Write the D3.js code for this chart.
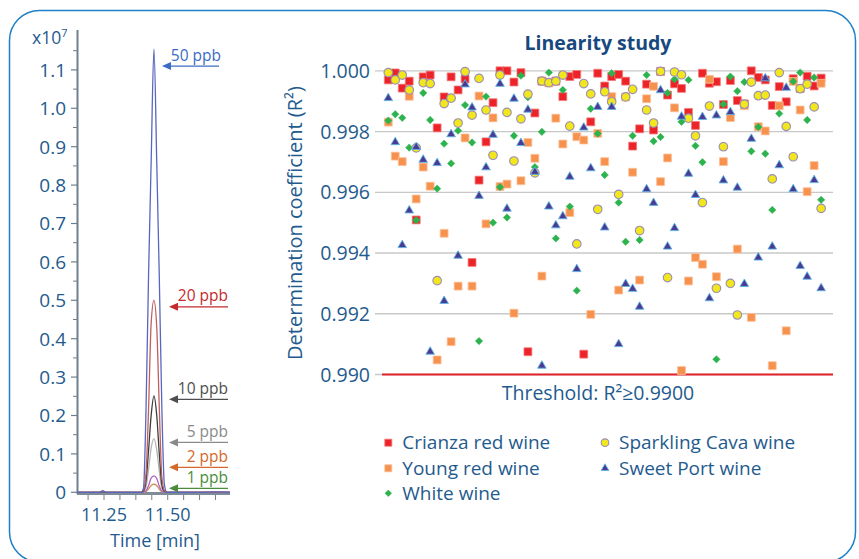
<!DOCTYPE html>
<html>
<head>
<meta charset="utf-8">
<script src="https://cdn.jsdelivr.net/npm/d3@7"></script>
<style>
  html, body { margin: 0; padding: 0; background: #ffffff; }
  svg { display: block; font-family: "Open Sans", "Noto Sans", "DejaVu Sans", sans-serif; }
</style>
</head>
<body>
<svg id="chart" width="859" height="559"></svg>
<script>
// ---------- Chromatogram (left panel) ----------
// Retention time in minutes, intensity in units of 10^7 counts
const times = [11.144, 11.20, 11.232, 11.245, 11.258, 11.30, 11.36, 11.395, 11.405, 11.415, 11.425,
               11.435, 11.446, 11.457, 11.467, 11.477, 11.487, 11.497, 11.55, 11.62, 11.69, 11.7445];
const ppb50 = [0, 0, 0, 0.004, 0, 0, 0, 0, 0.01, 0.22, 0.57, 0.86, 1.154, 0.86, 0.56, 0.22, 0.02, 0, 0, 0, 0.001, 0];
const ppb20 = [0, 0, 0, 0.002, 0, 0, 0, 0, 0.005, 0.05, 0.22, 0.44, 0.50, 0.43, 0.22, 0.04, 0.005, 0, 0, 0, 0, 0];
const ppb10 = [0, 0, 0, 0.001, 0, 0, 0, 0, 0.003, 0.03, 0.11, 0.20, 0.251, 0.20, 0.10, 0.02, 0.002, 0, 0, 0, 0, 0];
const ppb5  = [0, 0, 0, 0.001, 0, 0, 0, 0, 0.002, 0.015, 0.06, 0.115, 0.14, 0.11, 0.055, 0.01, 0.001, 0, 0, 0, 0, 0];
const ppb2  = [0, 0, 0, 0, 0, 0, 0, 0, 0.001, 0.004, 0.018, 0.037, 0.043, 0.036, 0.016, 0.003, 0, 0, 0, 0, 0, 0];
const ppb1  = [0, 0, 0, 0, 0, 0, 0, 0, 0, 0.002, 0.009, 0.018, 0.021, 0.018, 0.008, 0.002, 0, 0, 0, 0, 0, 0];

const traceLabels = ["1 ppb", "2 ppb", "5 ppb", "10 ppb", "20 ppb", "50 ppb"];
const traceColors = ["#c9955f", "#b45fc4", "#b4b4b4", "#3c3c3c", "#c0605c", "#5966c0"];
const labelColors = ["#4a8c3c", "#d3692a", "#8a8a8a", "#4e4e4e", "#c42a2e", "#3b6cc4"];
// intensity level each annotation arrow points at
const arrowLevels = [0.0104, 0.065, 0.13, 0.242, 0.483, 1.11];

const intensityTicks = [0, 0.1, 0.2, 0.3, 0.4, 0.5, 0.6, 0.7, 0.8, 0.9, 1.0, 1.1];
const timeTicks = [11.25, 11.50];

// ---------- Linearity study (right panel) ----------
// Determination coefficient R² per compound (compound 1 ... 63)
const crianzaRed = [0.99970, 0.99993, 0.99943, 0.99966, 0.99509, 0.99980, 0.99986, 0.99812, 0.99914, 0.99980,
  0.99937, 0.99973, 0.99369, 0.99640, 0.99766, 0.99895, 1.00000, 1.00000, 0.99963, 0.99994,
  0.99075, 0.99861, 0.99966, 0.99961, 0.99966, 0.99915, 0.99981, 0.99988, 0.99067, 0.99832,
  0.99992, 0.99950, 0.99981, 0.99988, 0.99966, 0.99752, 0.99809, 0.99956, 0.99805, 0.99998,
  0.99920, 0.99957, 0.99942, 0.99863, 0.99820, 0.99992, 0.99959, 0.99964, 0.99889, 0.99968,
  0.99902, 0.99891, 1.00000, 0.99978, 0.99970, 0.99886, 0.99948, 0.99898, 0.99974, 0.99942,
  0.99982, 0.99950, 0.99976];
const youngRed = [0.99831, 0.99719, 0.99701, 0.99916, 0.99578, 0.99683, 0.99620, 0.99048, 0.99465, 0.99108,
  0.99291, 0.99779, 0.99291, 0.99917, 0.99496, 0.99845, 0.99619, 0.99627, 0.99202, 0.99638,
  0.99764, 0.99712, 0.99324, 0.99960, 0.99844, 0.99759, 0.99533, 0.99783, 0.99772, 0.99198,
  0.99794, 0.99701, 0.99915, 0.99278, 0.99914, 0.99666, 0.99311, 0.99908, 0.99949, 0.99635,
  0.99713, 0.99878, 0.99013, 0.99308, 0.99385, 0.99363, 0.99972, 0.99322, 0.99701, 0.99846,
  0.99413, 0.99885, 0.99188, 0.99816, 0.99802, 0.99029, 0.99885, 0.99144, 0.99965, 0.99871,
  0.99602, 0.99688, 0.99959];
const whiteWine = [0.99836, 0.99857, 0.99845, 0.99747, 0.99508, 0.99927, 0.99838, 0.99612, 0.99760, 0.99695,
  0.99803, 0.99887, 0.99764, 0.99110, 0.99915, 0.99500, 0.99617, 0.99517, 0.99786, 0.99984,
  0.99913, 0.99683, 0.99799, 0.99994, 0.99448, 0.99937, 0.99553, 0.99276, 0.99957, 0.99875,
  0.99793, 0.99657, 0.99992, 0.99566, 0.99437, 0.99786, 0.99443, 0.99986, 0.99768, 0.99782,
  0.99927, 0.99972, 0.99832, 0.99970, 0.99753, 0.99699, 0.99884, 0.99050, 0.99890, 0.99981,
  0.99933, 0.99963, 0.99735, 0.99815, 0.99727, 0.99542, 0.99859, 0.99818, 0.99965, 0.99994,
  0.99838, 0.99978, 0.99575];
const sparklingCava = [0.99994, 0.99970, 0.99986, 0.99937, 0.99746, 0.99961, 0.99958, 0.99309, 0.99892, 0.99910,
  0.99828, 0.99997, 0.99854, 0.99975, 0.99871, 0.99722, 0.99986, 0.99863, 0.99703, 0.99842,
  0.99923, 0.99664, 0.99966, 0.99961, 0.99966, 0.99986, 0.99818, 0.99430, 0.99958, 0.99924,
  0.99544, 0.99931, 0.99898, 0.99593, 0.99914, 0.99939, 0.99474, 0.99871, 0.99828, 0.99998,
  0.99319, 0.99996, 0.99987, 0.99844, 0.99786, 0.99566, 0.99884, 0.99284, 0.99750, 0.99300,
  0.99196, 0.99890, 0.99963, 0.99918, 0.99920, 0.99644, 0.99994, 0.99817, 0.99717, 0.99941,
  0.99956, 0.99881, 0.99547];
const sweetPort = [0.99910, 0.99765, 0.99426, 0.99540, 0.99749, 0.99707, 0.99075, 0.99696, 0.99242, 0.99791,
  0.99391, 0.99955, 0.99879, 0.99588, 0.99682, 0.99789, 0.99957, 0.99546, 0.99908, 0.99762,
  0.99872, 0.99667, 0.99029, 0.99553, 0.99491, 0.99521, 0.99651, 0.99347, 0.99813, 0.99679,
  0.99881, 0.99484, 0.99881, 0.99100, 0.99298, 0.99282, 0.99223, 0.99610, 0.99565, 0.99936,
  0.99421, 0.99482, 0.99849, 0.99661, 0.99591, 0.99848, 0.99251, 0.99853, 0.99639, 0.99864,
  0.99615, 0.99298, 0.99776, 0.99385, 0.99975, 0.99421, 0.99689, 0.99944, 0.99610, 0.99357,
  0.99322, 0.99640, 0.99284];

const wineNames = ["Crianza red wine", "Young red wine", "White wine", "Sparkling Cava wine", "Sweet Port wine"];
const r2Ticks = [0.990, 0.992, 0.994, 0.996, 0.998, 1.000];
const threshold = 0.990;

// ---------- drawing ----------
const svg = d3.select("#chart");
const textBlue = "#1f5b8e";

// outer rounded frame
svg.append("rect")
  .attr("x", 9.5).attr("y", 10.5).attr("width", 846).attr("height", 551.5)
  .attr("rx", 30).attr("ry", 30)
  .attr("fill", "none").attr("stroke", "#1e80c6").attr("stroke-width", 1.5);

// ===== left: chromatogram =====
const xT = d3.scaleLinear().domain([11.144, 11.7445]).range([77, 230]);
const yI = d3.scaleLinear().domain([0, 1.2]).range([492.3, 31.5]);
const axisGrey = "#6f808c";

const left = svg.append("g");

// y axis
left.append("line").attr("x1", 77.5).attr("x2", 77.5).attr("y1", 30).attr("y2", 494)
  .attr("stroke", axisGrey).attr("stroke-width", 2);
const minorI = intensityTicks.map(v => v + 0.05);
left.selectAll(".ymin").data(minorI).join("line")
  .attr("x1", 73).attr("x2", 77).attr("y1", d => yI(d)).attr("y2", d => yI(d))
  .attr("stroke", axisGrey).attr("stroke-width", 1);
left.selectAll(".ymaj").data(intensityTicks).join("line")
  .attr("x1", 71).attr("x2", 77).attr("y1", d => yI(d)).attr("y2", d => yI(d))
  .attr("stroke", axisGrey).attr("stroke-width", 1.2);
left.selectAll(".ylab").data(intensityTicks).join("text")
  .attr("x", 66).attr("y", d => yI(d)).attr("dy", "0.36em")
  .attr("text-anchor", "end").attr("font-size", 19).attr("fill", textBlue)
  .text(d => d === 0 ? "0" : d3.format(".1f")(d));

// exponent label
const expo = left.append("text").attr("x", 32).attr("y", 44).attr("font-size", 17.5).attr("fill", textBlue);
expo.append("tspan").text("x10");
expo.append("tspan").attr("dy", -7).attr("font-size", 11).text("7");

// x axis
const minorT = d3.range(11.1875, 11.70, 0.0625);
left.selectAll(".xt").data(minorT).join("line")
  .attr("x1", d => xT(d)).attr("x2", d => xT(d)).attr("y1", 494).attr("y2", 500)
  .attr("stroke", axisGrey).attr("stroke-width", 1);
left.append("line").attr("x1", 77).attr("x2", 230).attr("y1", 493.6).attr("y2", 493.6)
  .attr("stroke", "#7d8c97").attr("stroke-width", 3);
left.selectAll(".xlab").data(timeTicks).join("text")
  .attr("x", d => xT(d)).attr("y", 521).attr("text-anchor", "middle")
  .attr("font-size", 18).attr("fill", textBlue).text(d => d3.format(".2f")(d));
left.append("text").attr("x", 155).attr("y", 546.5).attr("text-anchor", "middle")
  .attr("font-size", 18).attr("fill", textBlue).text("Time [min]");

// traces, lowest concentration first so the 50 ppb trace sits on top
const traceSeries = [ppb1, ppb2, ppb5, ppb10, ppb20, ppb50];
const line = d3.line().x((d, i) => xT(times[i])).y(d => yI(d)).curve(d3.curveMonotoneX);
traceSeries.forEach((vals, k) => {
  left.append("path").datum(vals).attr("d", line)
    .attr("fill", "none").attr("stroke", traceColors[k]).attr("stroke-width", 1.3);
});

// concentration annotations with arrows
traceLabels.forEach((lab, k) => {
  const y = yI(arrowLevels[k]);
  const right = k === 5 ? 219 : 228;
  const tip = k === 5 ? 162 : 169;
  const col = labelColors[k];
  left.append("line").attr("x1", tip + 6).attr("x2", right).attr("y1", y).attr("y2", y)
    .attr("stroke", col).attr("stroke-width", 1.3);
  left.append("path")
    .attr("d", `M${tip},${y}L${tip + 9},${y - 4}L${tip + 9},${y + 4}Z`)
    .attr("fill", col);
  left.append("text").attr("x", k === 5 ? 221 : 228).attr("y", y - 5.5)
    .attr("text-anchor", "end").attr("font-size", 15.5).attr("fill", col).text(lab);
});

// ===== right: linearity study =====
const xC = d3.scaleLinear().domain([0, 64.7]).range([381.3, 833]);
const yR = d3.scaleLinear().domain([0.990, 1.000]).range([374.5, 70.8]);

const right = svg.append("g");

right.append("text").attr("x", 598).attr("y", 50).attr("text-anchor", "middle")
  .attr("font-size", 19.5).attr("font-weight", "bold").attr("fill", "#17497f")
  .text("Linearity study");

// gridlines + tick labels
right.selectAll(".grid").data(r2Ticks).join("line")
  .attr("x1", 375).attr("x2", 833).attr("y1", d => yR(d)).attr("y2", d => yR(d))
  .attr("stroke", "#c8c8c8").attr("stroke-width", 1.3);
right.selectAll(".rlab").data(r2Ticks).join("text")
  .attr("x", 370).attr("y", d => yR(d)).attr("dy", "0.36em").attr("text-anchor", "end")
  .attr("font-size", 19.5).attr("fill", textBlue).text(d => d3.format(".3f")(d));

// threshold
right.append("line").attr("x1", 382).attr("x2", 833)
  .attr("y1", yR(threshold)).attr("y2", yR(threshold))
  .attr("stroke", "#e4232a").attr("stroke-width", 2);

// axis title
right.append("text").attr("transform", "translate(302,223) rotate(-90)")
  .attr("text-anchor", "middle").attr("font-size", 20).attr("fill", textBlue)
  .text("Determination coefficient (R²)");

right.append("text").attr("x", 598).attr("y", 400).attr("text-anchor", "middle")
  .attr("font-size", 19.5).attr("fill", textBlue).text("Threshold: R²≥0.9900");

// marker styles per wine
const markerStyles = [
  { type: d3.symbolSquare, size: 62, fill: "#ec2328", stroke: "#f47a7a", sw: 0.8, rot: 0 },
  { type: d3.symbolSquare, size: 62, fill: "#f7924e", stroke: "#fbc19a", sw: 0.8, rot: 0 },
  { type: d3.symbolSquare, size: 27, fill: "#2db34e", stroke: "#2db34e", sw: 0.5, rot: 45 },
  { type: d3.symbolCircle, size: 58, fill: "#f2e61c", stroke: "#9a8fb5", sw: 1.1, rot: 0 },
  { type: d3.symbolTriangle, size: 32, fill: "#4b3a92", stroke: "#5db3e3", sw: 0.9, rot: 0 }
];
const wineSeries = [crianzaRed, youngRed, whiteWine, sparklingCava, sweetPort];

wineSeries.forEach((vals, s) => {
  const st = markerStyles[s];
  right.append("g").selectAll("path").data(vals).join("path")
    .attr("transform", (d, i) => `translate(${xC(i + 1)},${yR(d)}) rotate(${st.rot})`)
    .attr("d", d3.symbol().type(st.type).size(st.size)())
    .attr("fill", st.fill).attr("stroke", st.stroke).attr("stroke-width", st.sw);
});

// legend
const legendPos = [[388.3, 442.7], [388.3, 468.3], [388.3, 493.3], [605, 442.7], [605, 468.3]];
wineNames.forEach((name, s) => {
  const st = markerStyles[s];
  const [lx, ly] = legendPos[s];
  right.append("path")
    .attr("transform", `translate(${lx},${ly}) rotate(${st.rot})`)
    .attr("d", d3.symbol().type(st.type).size(st.size * 0.8)())
    .attr("fill", st.fill).attr("stroke", st.stroke).attr("stroke-width", st.sw);
  right.append("text").attr("x", lx + 14).attr("y", ly).attr("dy", "0.35em")
    .attr("font-size", 19).attr("fill", textBlue).text(name);
});
</script>
</body>
</html>
